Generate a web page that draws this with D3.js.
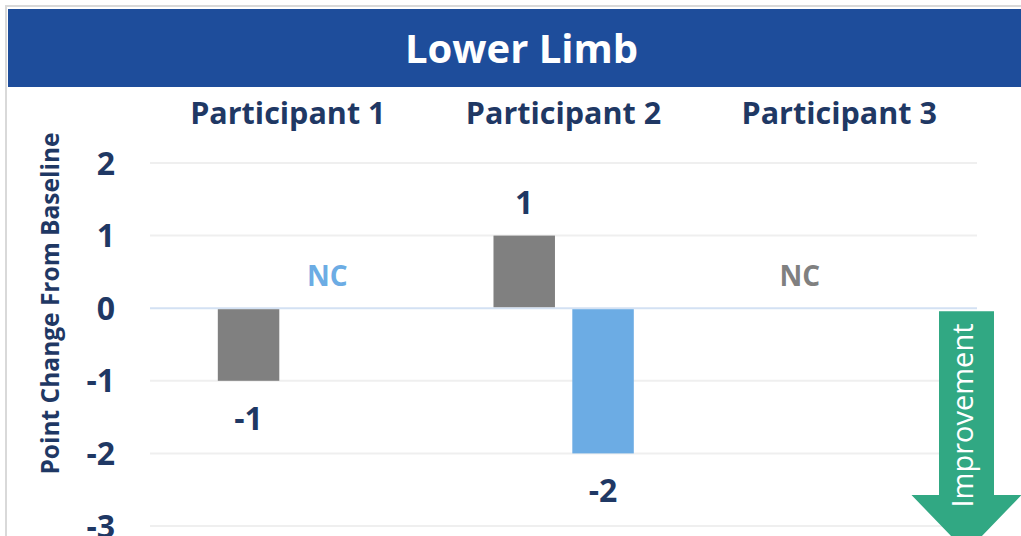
<!DOCTYPE html>
<html>
<head>
<meta charset="utf-8">
<script src="https://cdn.jsdelivr.net/npm/d3@7"></script>
<style>
  html, body { margin: 0; padding: 0; background: #ffffff; overflow: hidden; }
  svg { display: block; font-family: "Open Sans", Lato, sans-serif; }
</style>
</head>
<body>
<svg id="chart" width="1021" height="536"></svg>
<script>
// Lower limb point change from baseline, per participant
const participants = ["Participant 1", "Participant 2", "Participant 3"];
const seriesKeys = ["gray", "blue"];
const grayValues = [-1, 1, 0];      // 0 shown as "NC" (no change)
const blueValues = [0, -2, null];   // null: no measurement
const yTicks = [2, 1, 0, -1, -2, -3];

const colors = { gray: "#808080", blue: "#6cace4" };
const navy = "#1f3864";
const FONT = "'Open Sans', Lato, sans-serif";
const fmt = d => d3.format("d")(d).replace("\u2212", "-");

const W = 1021, H = 536;
const svg = d3.select("#chart");

// frame and header band
svg.append("rect").attr("x", 6).attr("y", 6).attr("width", W).attr("height", H)
  .attr("fill", "#ffffff").attr("stroke", "#d9d9d9").attr("stroke-width", 2);
svg.append("rect").attr("x", 8).attr("y", 9).attr("width", W - 8).attr("height", 78)
  .attr("fill", "#1e4d9b");
svg.append("text").attr("x", 521.5).attr("y", 63)
  .attr("text-anchor", "middle")
  .attr("fill", "#ffffff").attr("font-weight", 700).attr("font-size", 40)
  .text("Lower Limb");

// scales
const x0 = d3.scaleBand().domain(participants).range([150, 977]).padding(0);
const bw = x0.bandwidth();
const x1 = d3.scaleBand().domain(seriesKeys).range([bw * 0.246, bw * 0.755]).paddingInner(0.22);
const y = d3.scaleLinear().domain([-3, 2]).range([526, 163]);

// gridlines
svg.append("g").selectAll("line").data(yTicks).join("line")
  .attr("x1", 150).attr("x2", 977)
  .attr("y1", d => y(d)).attr("y2", d => y(d))
  .attr("stroke", d => d === 0 ? "#d3e1f3" : "#efefef")
  .attr("stroke-width", 2);

// y tick labels
const yAxis = d3.axisLeft(y).tickValues(yTicks).tickSize(0).tickPadding(0).tickFormat(fmt);
const gy = svg.append("g").attr("transform", "translate(115,0)").call(yAxis);
gy.select(".domain").remove();
gy.selectAll("text")
  .attr("fill", navy).attr("font-weight", 700).attr("font-size", 32)
  .attr("font-family", FONT)
  .attr("dy", 11);

// y axis title
svg.append("text")
  .attr("transform", `translate(59,303.5) rotate(-90)`)
  .attr("text-anchor", "middle")
  .attr("fill", navy).attr("font-weight", 700).attr("font-size", 24.5)
  .text("Point Change From Baseline");

// participant headers
const gx = svg.append("g").attr("transform", "translate(0,124)")
  .call(d3.axisTop(x0).tickSize(0).tickPadding(0));
gx.select(".domain").remove();
gx.selectAll("text")
  .attr("fill", navy).attr("font-weight", 700).attr("font-size", 30.5)
  .attr("font-family", FONT)
  .attr("dy", 0);

// data rows
const rows = participants.map((p, i) => ({ p, gray: grayValues[i], blue: blueValues[i] }));
const cells = rows.flatMap(r => seriesKeys.map(k => ({ p: r.p, key: k, value: r[k] })))
  .filter(d => d.value !== null);

const gBars = svg.append("g");
gBars.selectAll("rect").data(cells.filter(d => d.value !== 0)).join("rect")
  .attr("x", d => x0(d.p) + x1(d.key))
  .attr("width", x1.bandwidth())
  .attr("y", d => y(Math.max(0, d.value)) + (d.value < 0 ? 1 : 0))
  .attr("height", d => Math.abs(y(d.value) - y(0)) - 1)
  .attr("fill", d => colors[d.key]);

// value labels
svg.append("g").selectAll("text").data(cells).join("text")
  .attr("x", d => x0(d.p) + x1(d.key) + x1.bandwidth() / 2)
  .attr("y", d => d.value >= 0 ? y(d.value) - 22 : y(d.value) + 49)
  .attr("text-anchor", "middle")
  .attr("font-weight", 700).attr("font-size", d => d.value === 0 ? 28 : 32)
  .attr("fill", d => d.value === 0 ? colors[d.key] : navy)
  .text(d => d.value === 0 ? "NC" : fmt(d.value));

// improvement arrow (lower is better)
const ax = 966.5, arrowTop = y(0) + 3;
const arrow = svg.append("g");
arrow.append("path")
  .attr("d", `M${ax - 27.5},${arrowTop} H${ax + 27.5} V495 H${ax + 55} L${ax},552 L${ax - 55},495 H${ax - 27.5} Z`)
  .attr("fill", "#31a883");
arrow.append("text")
  .attr("transform", `translate(${ax + 6},415.5) rotate(-90)`)
  .attr("text-anchor", "middle")
  .attr("fill", "#ffffff").attr("font-size", 29).attr("font-family", FONT)
  .text("Improvement");
</script>
</body>
</html>
